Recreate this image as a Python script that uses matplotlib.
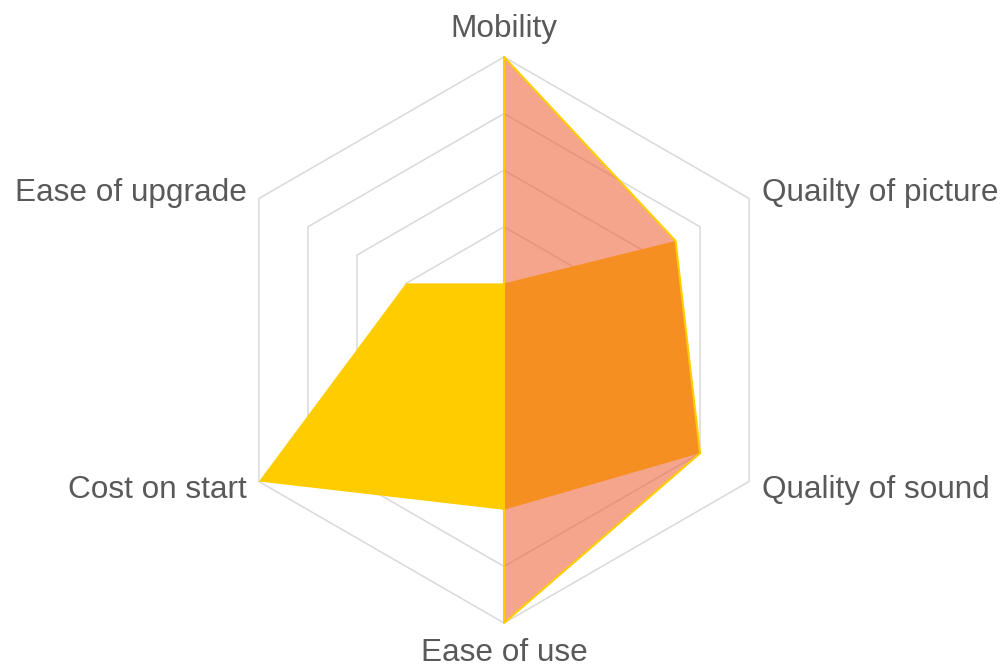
import matplotlib.pyplot as plt
import numpy as np

categories = ["Mobility", "Quailty of picture", "Quality of sound",
              "Ease of use", "Cost on start", "Ease of upgrade"]
series_a = [5, 3.5, 4, 5, 0, 0]   # salmon, semi-transparent
series_b = [1, 3.5, 4, 3, 5, 2]   # yellow
levels = [1, 2, 3, 4, 5]

# geometry in pixel-like units
cx, cy = 504, 340
scale = 283 / 5
angles = np.arange(len(categories)) * 2 * np.pi / len(categories)


def to_xy(vals):
    r = np.asarray(vals, dtype=float) * scale
    x = cx + r * np.sin(angles)
    y = cy - r * np.cos(angles)
    return np.append(x, x[0]), np.append(y, y[0])


fig = plt.figure(figsize=(10.04, 6.67), dpi=100)
ax = fig.add_axes([0, 0, 1, 1])
ax.set_xlim(0, 1004)
ax.set_ylim(667, 0)
ax.axis('off')

# hexagon grid
for lv in levels:
    gx, gy = to_xy([lv] * len(categories))
    ax.plot(gx, gy, color='#d9d9d9', lw=1.1, zorder=1)

# yellow series (opaque)
bx, by = to_xy(series_b)
ax.fill(bx, by, color='#ffcc00', lw=0, zorder=2)

# salmon series on top
sx, sy = to_xy(series_a)
ax.fill(sx, sy, color=(238/255, 100/255, 58/255), alpha=0.58, lw=0, zorder=3)
ax.plot(sx, sy, color='#ffcc00', lw=1.5, zorder=4)

# labels (baseline positions)
txt = dict(fontsize=22.7, color='#595959', family='Liberation Sans', va='baseline')
ax.text(504, 37, categories[0], ha='center', **txt)
ax.text(762, 201, categories[1], ha='left', **txt)
ax.text(762, 498, categories[2], ha='left', **txt)
ax.text(504, 661, categories[3], ha='center', **txt)
ax.text(247, 498, categories[4], ha='right', **txt)
ax.text(247, 201, categories[5], ha='right', **txt)

fig.savefig("out.png", dpi=100)
